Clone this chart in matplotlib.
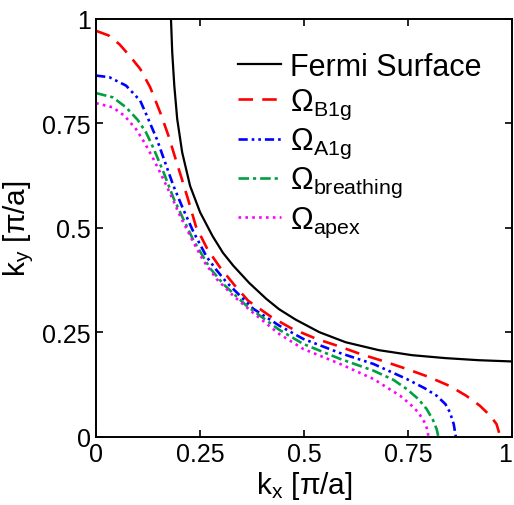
import matplotlib
matplotlib.use("Agg")
import matplotlib.pyplot as plt

plt.rcParams["font.family"] = ["Liberation Sans", "DejaVu Sans"]
plt.rcParams["mathtext.fontset"] = "custom"
plt.rcParams["mathtext.rm"] = "Liberation Sans"
plt.rcParams["mathtext.it"] = "Liberation Sans"

# ── Data ──────────────────────────────────────────────────────────────────────
fermi_kx = [0.180, 0.183, 0.188, 0.195, 0.207, 0.226, 0.250, 0.280, 0.305, 0.330,
            0.368, 0.409, 0.440, 0.480, 0.537, 0.600, 0.680, 0.760, 0.840, 0.920,
            1.000]
fermi_ky = [1.000, 0.920, 0.840, 0.760, 0.680, 0.600, 0.537, 0.480, 0.440, 0.409,
            0.368, 0.330, 0.305, 0.280, 0.250, 0.226, 0.207, 0.195, 0.188, 0.183,
            0.180]

b1g_kx = [0.000, 0.030, 0.056, 0.080, 0.106, 0.130, 0.154, 0.174, 0.190, 0.206,
          0.222, 0.240, 0.268, 0.298, 0.334, 0.366, 0.422, 0.470, 0.530, 0.585,
          0.635, 0.690, 0.747, 0.800, 0.851, 0.890, 0.923, 0.948, 0.963, 0.972]
b1g_ky = [0.971, 0.960, 0.939, 0.912, 0.880, 0.836, 0.776, 0.720, 0.668, 0.617,
          0.565, 0.503, 0.448, 0.405, 0.361, 0.325, 0.286, 0.259, 0.234, 0.216,
          0.198, 0.181, 0.162, 0.143, 0.121, 0.098, 0.074, 0.050, 0.030, 0.000]

a1g_kx = [0.000, 0.032, 0.072, 0.106, 0.122, 0.146, 0.166, 0.186, 0.210, 0.234,
          0.266, 0.290, 0.314, 0.378, 0.440, 0.498, 0.587, 0.667, 0.747, 0.790,
          0.819, 0.840, 0.851, 0.860, 0.865]
a1g_ky = [0.864, 0.860, 0.840, 0.804, 0.768, 0.712, 0.656, 0.600, 0.543, 0.490,
          0.430, 0.398, 0.369, 0.306, 0.266, 0.234, 0.200, 0.174, 0.138, 0.116,
          0.098, 0.078, 0.058, 0.030, 0.000]

brth_kx = [0.000, 0.040, 0.072, 0.100, 0.120, 0.138, 0.162, 0.186, 0.210, 0.234,
           0.274, 0.306, 0.362, 0.440, 0.498, 0.587, 0.667, 0.715, 0.747, 0.775,
           0.795, 0.810, 0.819, 0.823]
brth_ky = [0.822, 0.812, 0.788, 0.758, 0.728, 0.690, 0.633, 0.571, 0.520, 0.470,
           0.403, 0.365, 0.313, 0.256, 0.222, 0.186, 0.158, 0.136, 0.114, 0.090,
           0.066, 0.040, 0.018, 0.000]

apex_kx = [0.000, 0.040, 0.068, 0.096, 0.116, 0.136, 0.156, 0.184, 0.200, 0.234,
           0.258, 0.290, 0.330, 0.378, 0.440, 0.498, 0.587, 0.667, 0.731, 0.755,
           0.775, 0.790, 0.797, 0.799]
apex_ky = [0.798, 0.788, 0.768, 0.736, 0.704, 0.668, 0.628, 0.569, 0.532, 0.465,
           0.421, 0.377, 0.337, 0.296, 0.246, 0.210, 0.174, 0.138, 0.098, 0.078,
           0.058, 0.034, 0.016, 0.000]

ticks = [0, 0.25, 0.5, 0.75, 1]
tick_labels = ["0", "0.25", "0.5", "0.75", "1"]

# ── Figure ────────────────────────────────────────────────────────────────────
fig = plt.figure(figsize=(5.14, 5.06), dpi=100)
ax = fig.add_axes([0.187, 0.135, 0.809, 0.826])

ax.plot(fermi_kx, fermi_ky, color="black", linewidth=1.6, label="Fermi Surface")
ax.plot(b1g_kx, b1g_ky, color="#FF0000", linewidth=1.9,
        dashes=(5.5, 3.5), label=r"$\Omega_{\mathrm{B1g}}$")
ax.plot(a1g_kx, a1g_ky, color="#0000FF", linewidth=1.9,
        dashes=(3.5, 1.5, 1.0, 1.5, 1.0, 1.5), label=r"$\Omega_{\mathrm{A1g}}$")
ax.plot(brth_kx, brth_ky, color="#00A040", linewidth=1.9,
        dashes=(4.0, 1.5, 1.2, 1.5), label=r"$\Omega_{\mathrm{breathing}}$")
ax.plot(apex_kx, apex_ky, color="#FF00FF", linewidth=1.9,
        dashes=(1.0, 1.6), label=r"$\Omega_{\mathrm{apex}}$")

ax.set_xlim(0, 1)
ax.set_ylim(0, 1)
ax.set_xticks(ticks)
ax.set_xticklabels(tick_labels)
ax.set_yticks(ticks)
ax.set_yticklabels(tick_labels)
ax.tick_params(direction="in", length=5, width=1.2, top=True, right=True,
               labelsize=18, pad=4)
ax.get_xticklabels()[-1].set_horizontalalignment("right")
for sp in ax.spines.values():
    sp.set_linewidth(1.4)

ax.set_xlabel(r"k$_\mathrm{x}$ [$\pi$/a]", fontsize=21.5, labelpad=2)
ax.set_ylabel(r"k$_\mathrm{y}$ [$\pi$/a]", fontsize=21.5, labelpad=4)

ax.legend(loc="upper left", bbox_to_anchor=(0.341, 0.92), frameon=False,
          fontsize=22, handlelength=1.4, handletextpad=0.3, labelspacing=0.16,
          borderpad=0, borderaxespad=0)

fig.savefig("out.png", dpi=100)
